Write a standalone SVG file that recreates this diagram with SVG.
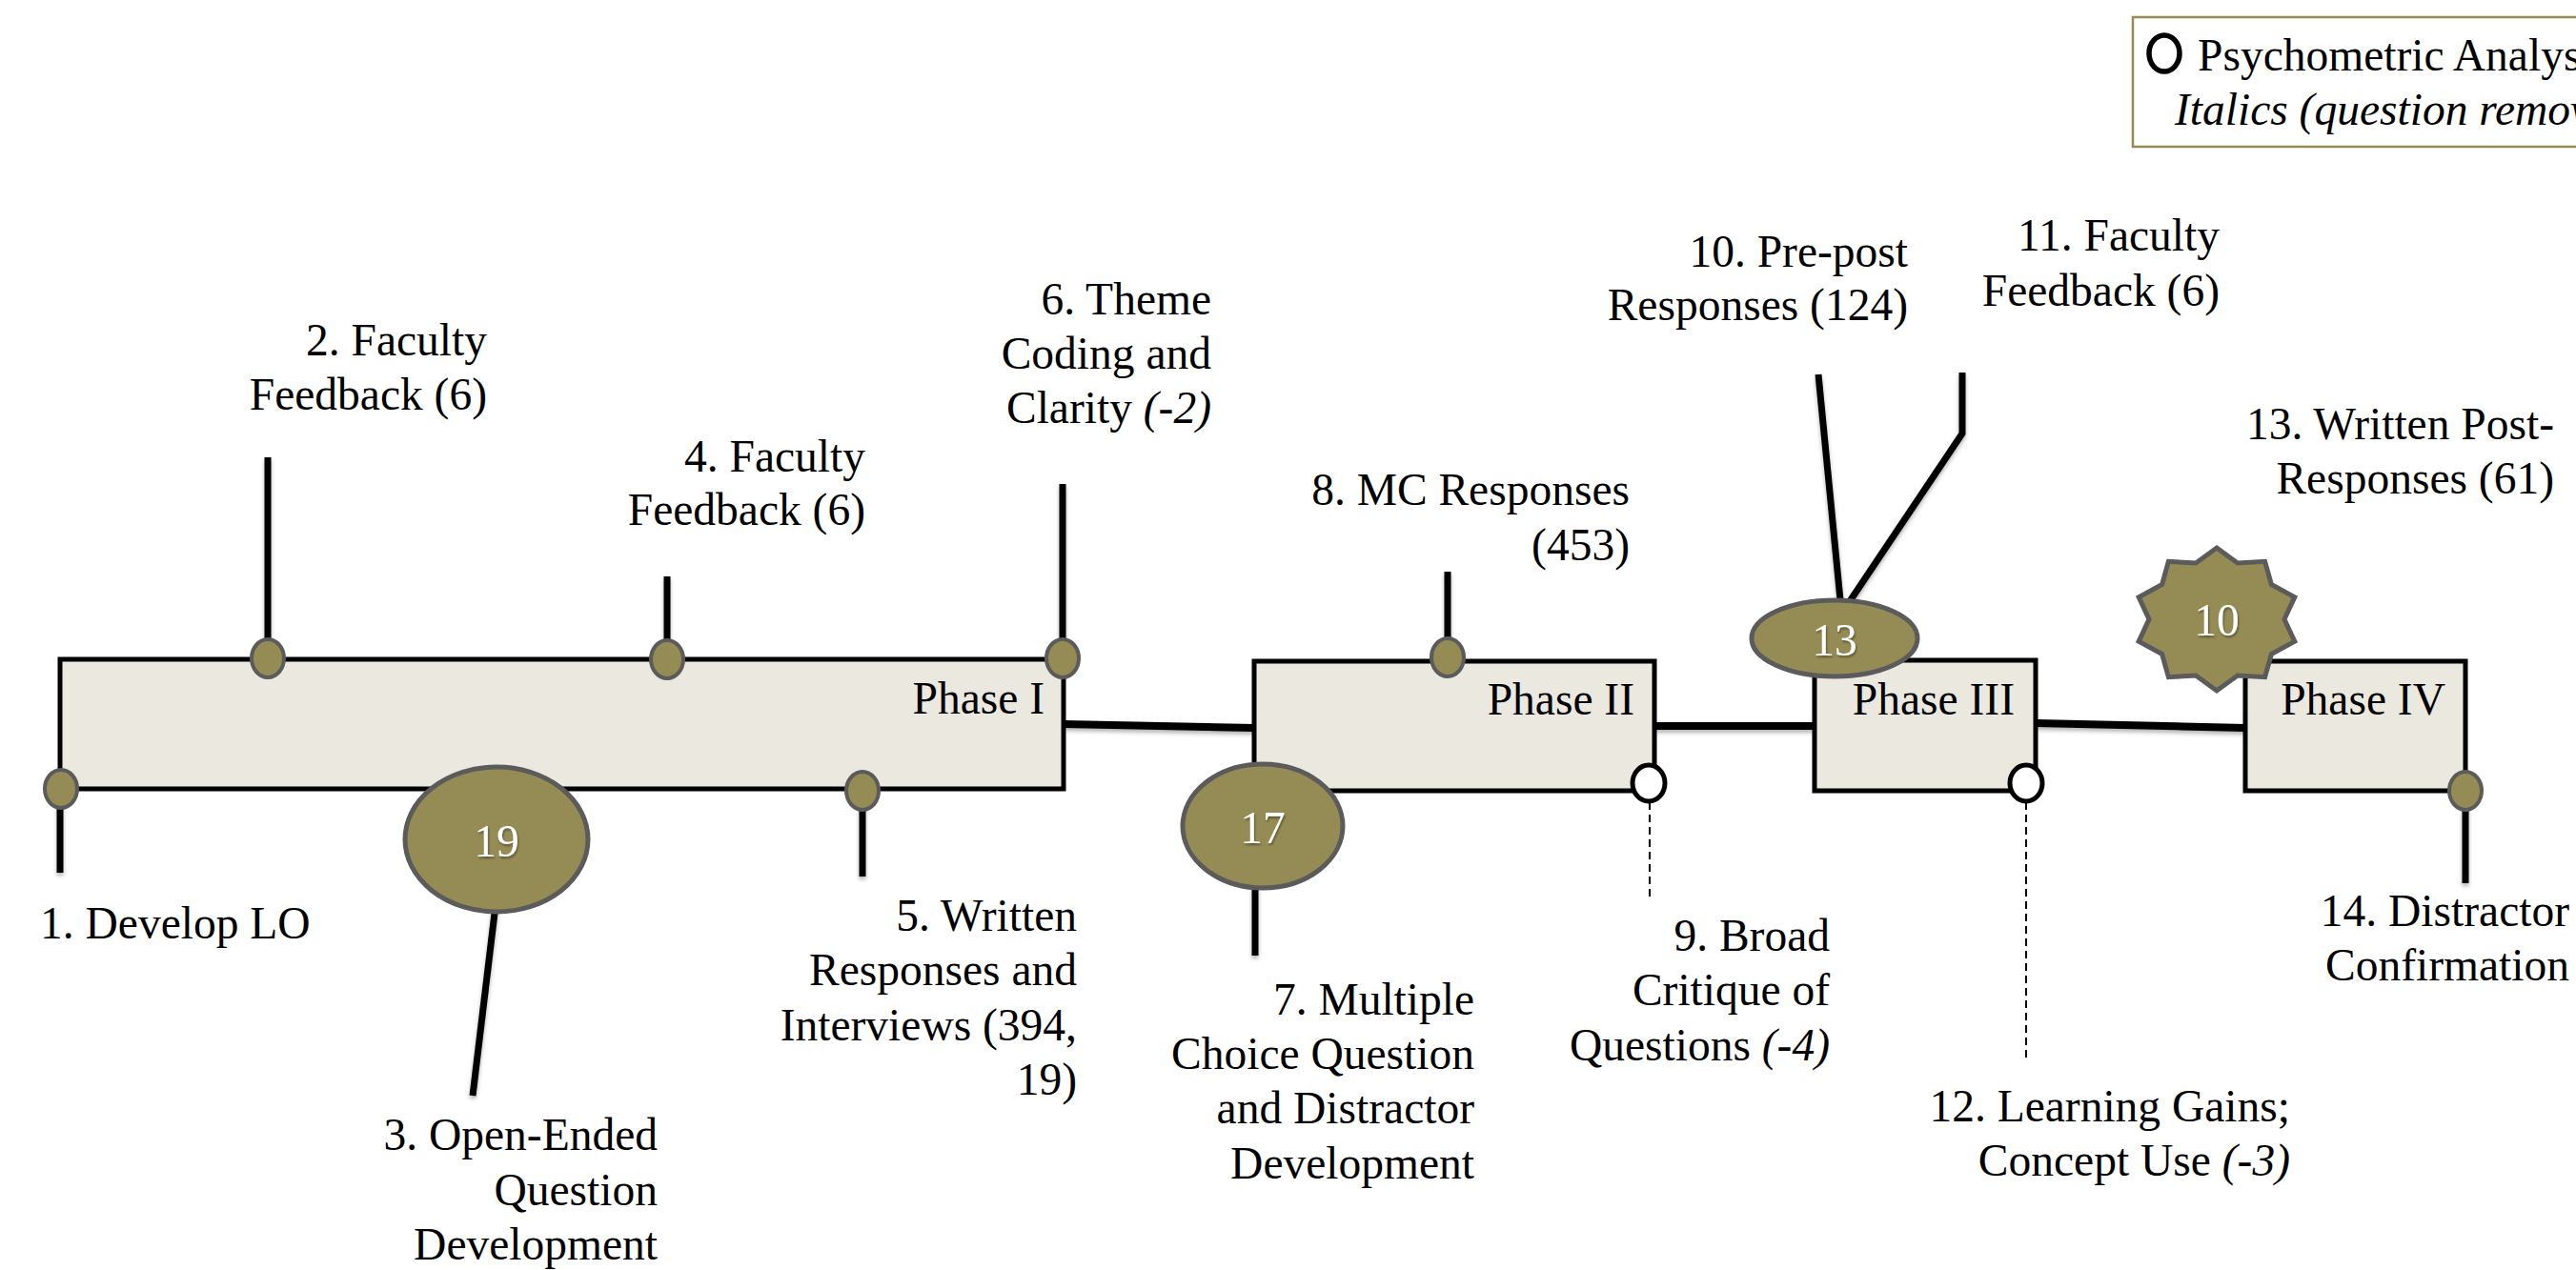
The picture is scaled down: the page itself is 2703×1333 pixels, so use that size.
<svg xmlns="http://www.w3.org/2000/svg" width="2703" height="1333" viewBox="0 0 2703 1333">
<defs>
<filter id="sh" filterUnits="userSpaceOnUse" x="-10" y="-10" width="2723" height="1353">
<feDropShadow dx="0" dy="3" stdDeviation="2" flood-color="#000" flood-opacity="0.3"/>
</filter>
<filter id="tsh" x="-20%" y="-20%" width="140%" height="140%">
<feDropShadow dx="1" dy="2" stdDeviation="1" flood-color="#000" flood-opacity="0.4"/>
</filter>
</defs>
<style>
.box{fill:#EAE8DF;stroke:#000;stroke-width:5}
.ln{stroke:#000;stroke-width:7;fill:none;filter:url(#sh)}
.cn{stroke:#000;stroke-width:8;fill:none;filter:url(#sh)}
.dash{stroke:#000;stroke-width:2;stroke-dasharray:8 5;fill:none}
.dot{fill:#958B55;stroke:#5B5B5B;stroke-width:4}
.open{fill:#fff;stroke:#000;stroke-width:5}
.cnt{fill:#958B55;stroke:#5B5B5B;stroke-width:5}
text{font-family:"Liberation Serif","Times New Roman",serif;font-size:47.5px;fill:#000}
.r{text-anchor:end}
.c{text-anchor:middle}
.w{fill:#fff;filter:url(#tsh)}
.i{font-style:italic}
</style>
<rect width="2703" height="1333" fill="#fff"/>

<g id="connectors">
<line class="cn" x1="1116" y1="760" x2="1316" y2="764"/>
<line class="cn" x1="1736" y1="762" x2="1904" y2="762"/>
<line class="cn" x1="2136" y1="759" x2="2356" y2="764"/>
<line class="ln" x1="63" y1="828" x2="63" y2="916"/>
<line class="ln" x1="281" y1="480" x2="281" y2="691"/>
<line class="ln" x1="520" y1="950" x2="496" y2="1150"/>
<line class="ln" x1="700" y1="605" x2="700" y2="692"/>
<line class="ln" x1="905" y1="830" x2="905" y2="920"/>
<line class="ln" x1="1115" y1="508" x2="1115" y2="691"/>
<line class="ln" x1="1317" y1="925" x2="1317" y2="1003"/>
<line class="ln" x1="1519" y1="600" x2="1519" y2="690"/>
<line class="dash" x1="1731" y1="842" x2="1731" y2="942"/>
<line class="ln" x1="1908" y1="393" x2="1932" y2="640"/>
<polyline class="ln" points="2059,391 2059,455 1935,640"/>
<line class="dash" x1="2126" y1="842" x2="2126" y2="1111"/>
<line class="ln" x1="2587" y1="830" x2="2587" y2="927"/>
</g>

<g id="phase1">
<rect class="box" x="63" y="692" width="1053" height="136"/>
<text class="r" x="1096" y="749">Phase I</text>
</g>
<g id="phase2">
<rect class="box" x="1316" y="694" width="420" height="136"/>
<text class="r" x="1715" y="750">Phase II</text>
</g>
<g id="phase3">
<rect class="box" x="1904" y="693" width="232" height="137"/>
<text class="r" x="2114" y="750">Phase III</text>
</g>
<g id="phase4">
<rect class="box" x="2356" y="694" width="231" height="136"/>
<text class="r" x="2566" y="750">Phase IV</text>
</g>

<g id="count19">
<ellipse class="cnt" cx="521" cy="881" rx="96" ry="76"/>
<text class="c w" x="521" y="899">19</text>
</g>
<g id="count17">
<ellipse class="cnt" cx="1325" cy="867" rx="84" ry="65"/>
<text class="c w" x="1325" y="885">17</text>
</g>
<g id="count13">
<ellipse class="cnt" cx="1925" cy="670" rx="87" ry="40"/>
<text class="c w" x="1925" y="688">13</text>
</g>
<g id="count10">
<polygon class="cnt" points="2326,575 2347.9,591 2376.6,589.3 2383.4,613.5 2407.8,626.8 2397,650 2407.8,673.2 2383.4,686.5 2376.6,710.7 2347.9,709 2326,725 2304.1,709 2275.4,710.7 2268.6,686.5 2244.2,673.2 2255,650 2244.2,626.8 2268.6,613.5 2275.4,589.3 2304.1,591"/>
<text class="c w" x="2326" y="667">10</text>
</g>

<g id="step1">
<ellipse class="dot" cx="64" cy="828" rx="17" ry="20"/>
<text x="42" y="985">1. Develop LO</text>
</g>
<g id="step2">
<ellipse class="dot" cx="281" cy="691" rx="17" ry="20"/>
<text class="r" x="511"><tspan x="511" y="373">2. Faculty</tspan><tspan x="511" y="430">Feedback (6)</tspan></text>
</g>
<g id="step3">
<text class="r"><tspan x="690" y="1207">3. Open-Ended</tspan><tspan x="690" y="1265">Question</tspan><tspan x="690" y="1322">Development</tspan></text>
</g>
<g id="step4">
<ellipse class="dot" cx="700" cy="692" rx="17" ry="20"/>
<text class="r"><tspan x="908" y="495">4. Faculty</tspan><tspan x="908" y="551">Feedback (6)</tspan></text>
</g>
<g id="step5">
<ellipse class="dot" cx="905" cy="830" rx="17" ry="20"/>
<text class="r"><tspan x="1130" y="977">5. Written</tspan><tspan x="1130" y="1034">Responses and</tspan><tspan x="1130" y="1092">Interviews (394,</tspan><tspan x="1130" y="1149">19)</tspan></text>
</g>
<g id="step6">
<ellipse class="dot" cx="1115" cy="691" rx="17" ry="20"/>
<text class="r"><tspan x="1271" y="330">6. Theme</tspan><tspan x="1271" y="387">Coding and</tspan><tspan x="1271" y="444">Clarity <tspan class="i">(-2)</tspan></tspan></text>
</g>
<g id="step7">
<text class="r"><tspan x="1547" y="1065">7. Multiple</tspan><tspan x="1547" y="1122">Choice Question</tspan><tspan x="1547" y="1179">and Distractor</tspan><tspan x="1547" y="1237">Development</tspan></text>
</g>
<g id="step8">
<ellipse class="dot" cx="1519" cy="690" rx="17" ry="20"/>
<text class="r"><tspan x="1710" y="530">8. MC Responses</tspan><tspan x="1710" y="588">(453)</tspan></text>
</g>
<g id="step9">
<ellipse class="open" cx="1730" cy="822" rx="17" ry="19"/>
<text class="r"><tspan x="1920" y="998">9. Broad</tspan><tspan x="1920" y="1055">Critique of</tspan><tspan x="1920" y="1113">Questions <tspan class="i">(-4)</tspan></tspan></text>
</g>
<g id="step10">
<text class="r"><tspan x="2002" y="280">10. Pre-post</tspan><tspan x="2002" y="336">Responses (124)</tspan></text>
</g>
<g id="step11">
<text class="r"><tspan x="2329" y="263">11. Faculty</tspan><tspan x="2329" y="321">Feedback (6)</tspan></text>
</g>
<g id="step12">
<ellipse class="open" cx="2126" cy="822" rx="17" ry="19"/>
<text class="r"><tspan x="2403" y="1177">12. Learning Gains;</tspan><tspan x="2403" y="1234">Concept Use <tspan class="i">(-3)</tspan></tspan></text>
</g>
<g id="step13">
<text class="r"><tspan x="2680" y="461">13. Written Post-</tspan><tspan x="2680" y="518">Responses (61)</tspan></text>
</g>
<g id="step14">
<ellipse class="dot" cx="2587" cy="830" rx="17" ry="20"/>
<text class="r"><tspan x="2696" y="972">14. Distractor</tspan><tspan x="2696" y="1029">Confirmation</tspan></text>
</g>

<g id="legend">
<rect x="2238" y="18" width="520" height="136" fill="#fff" stroke="#958B55" stroke-width="2.5"/>
<ellipse cx="2271" cy="56" rx="16" ry="19" fill="none" stroke="#000" stroke-width="5.5"/>
<text x="2306" y="74">Psychometric Analysis</text>
<text class="i" x="2282" y="131">Italics (question removed)</text>
</g>
</svg>
